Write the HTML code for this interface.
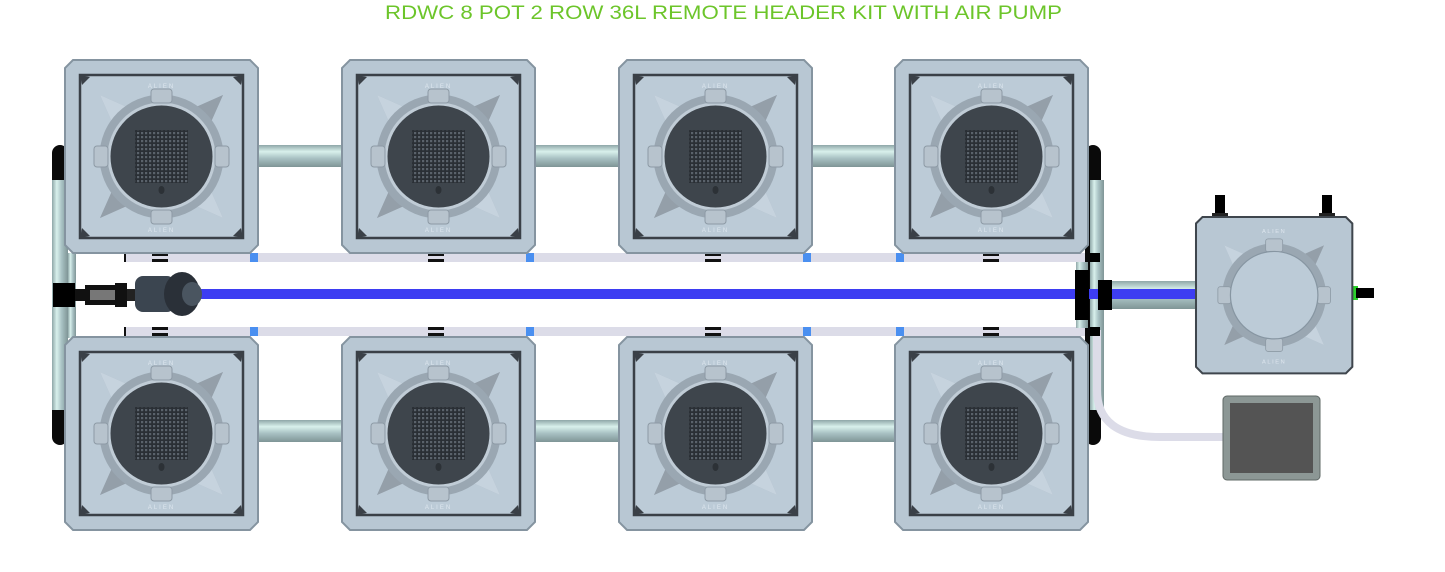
<!DOCTYPE html>
<html><head><meta charset="utf-8"><style>
html,body{margin:0;padding:0;background:#fff;}
svg{display:block;}
</style></head><body>
<svg width="1445" height="572" viewBox="0 0 1445 572" xmlns="http://www.w3.org/2000/svg">
<defs>
<linearGradient id="hp" x1="0" y1="0" x2="0" y2="1">
<stop offset="0" stop-color="#8fa7a8"/><stop offset="0.3" stop-color="#d8f0ec"/><stop offset="0.6" stop-color="#a9c2c4"/><stop offset="1" stop-color="#7f9596"/></linearGradient>
<linearGradient id="vp" x1="0" y1="0" x2="1" y2="0">
<stop offset="0" stop-color="#8fa7a8"/><stop offset="0.3" stop-color="#d8f0ec"/><stop offset="0.6" stop-color="#a9c2c4"/><stop offset="1" stop-color="#7f9596"/></linearGradient>
<pattern id="grid" width="4" height="4" patternUnits="userSpaceOnUse">
<rect width="4" height="4" fill="#2a2f35"/><rect width="2.2" height="2.2" fill="#5a626b"/></pattern>
<g id="pot">
<path d="M8 0 H185 L193 8 V185 L185 193 H8 L0 185 V8 Z" fill="#b8c7d3" stroke="#8594a0" stroke-width="2"/>
<rect x="15" y="15" width="163" height="163" fill="#bccbd7" stroke="#3a4047" stroke-width="2.5"/>
<path d="M35 35 L80 55 L113 55 L158 35 L138 80 L138 113 L158 158 L113 138 L80 138 L35 158 L55 113 L55 80 Z" fill="#a7b5c1"/>
<path d="M35 35 L80 55 L55 80 Z M158 158 L113 138 L138 113 Z" fill="#c6d3de"/>
<path d="M158 35 L138 80 L113 55 Z M35 158 L55 113 L80 138 Z" fill="#949fa9"/>
<circle cx="96.5" cy="96.5" r="62" fill="#9aa7b2"/>
<circle cx="96.5" cy="96.5" r="54" fill="#c0ccd6"/>
<rect x="86" y="29" width="21" height="14" rx="3" fill="#b7c3cd" stroke="#8d9aa5"/>
<rect x="86" y="150" width="21" height="14" rx="3" fill="#b7c3cd" stroke="#8d9aa5"/>
<rect x="29" y="86" width="14" height="21" rx="3" fill="#b7c3cd" stroke="#8d9aa5"/>
<rect x="150" y="86" width="14" height="21" rx="3" fill="#b7c3cd" stroke="#8d9aa5"/>
<circle cx="96.5" cy="96.5" r="51" fill="#3e454c"/>
<rect x="70" y="70" width="53" height="53" fill="url(#grid)"/>
<ellipse cx="96.5" cy="130" rx="3" ry="4" fill="#2c3136"/>
<path d="M15 15 l10 2 -8 8 Z M178 15 l-10 2 8 8 Z M15 178 l10 -2 -8 -8 Z M178 178 l-10 -2 8 -8 Z" fill="#3a4047"/>
<text x="96.5" y="28" font-family="Liberation Sans, sans-serif" font-size="6" fill="#dde6ee" text-anchor="middle" letter-spacing="2">ALIEN</text>
<text x="96.5" y="172" font-family="Liberation Sans, sans-serif" font-size="6" fill="#dde6ee" text-anchor="middle" letter-spacing="2">ALIEN</text>
</g>
</defs>

<text x="385" y="19" textLength="677" lengthAdjust="spacingAndGlyphs" font-family="Liberation Sans, sans-serif" font-size="19" fill="#6cc52a">RDWC 8 POT 2 ROW 36L REMOTE HEADER KIT WITH AIR PUMP</text>

<!-- left end caps -->
<rect x="52" y="145" width="16" height="300" rx="8" fill="#0a0a0a"/>
<rect x="1085" y="145" width="16" height="300" rx="8" fill="#0a0a0a"/>
<!-- vertical left pipe -->
<rect x="52" y="180" width="16" height="230" fill="url(#vp)"/>
<rect x="68" y="253" width="8" height="85" fill="url(#vp)"/>
<rect x="1090" y="180" width="14" height="230" fill="url(#vp)"/>

<!-- horizontal pipes -->
<g fill="url(#hp)">
<rect x="255" y="145" width="90" height="22"/><rect x="532" y="145" width="90" height="22"/><rect x="809" y="145" width="90" height="22"/>
<rect x="255" y="420" width="90" height="22"/><rect x="532" y="420" width="90" height="22"/><rect x="809" y="420" width="90" height="22"/>
<rect x="1105" y="281" width="95" height="28"/>
</g>

<!-- tubes -->
<rect x="125" y="253" width="960" height="9" fill="#dcdce8"/>
<rect x="125" y="327" width="960" height="9" fill="#dcdce8"/>
<path d="M1097 330 V390 Q1097 437 1160 437 H1225" fill="none" stroke="#dcdce8" stroke-width="8"/>
<g fill="#4a8ff0">
<rect x="250" y="253" width="8" height="9"/><rect x="526" y="253" width="8" height="9"/><rect x="803" y="253" width="8" height="9"/><rect x="896" y="253" width="8" height="9"/>
<rect x="250" y="327" width="8" height="9"/><rect x="526" y="327" width="8" height="9"/><rect x="803" y="327" width="8" height="9"/><rect x="896" y="327" width="8" height="9"/>
</g>
<g fill="#111">
<rect x="152" y="253" width="16" height="3"/><rect x="152" y="259" width="16" height="3"/>
<rect x="428" y="253" width="16" height="3"/><rect x="428" y="259" width="16" height="3"/>
<rect x="705" y="253" width="16" height="3"/><rect x="705" y="259" width="16" height="3"/>
<rect x="983" y="253" width="16" height="3"/><rect x="983" y="259" width="16" height="3"/>
<rect x="152" y="327" width="16" height="3"/><rect x="152" y="333" width="16" height="3"/>
<rect x="428" y="327" width="16" height="3"/><rect x="428" y="333" width="16" height="3"/>
<rect x="705" y="327" width="16" height="3"/><rect x="705" y="333" width="16" height="3"/>
<rect x="983" y="327" width="16" height="3"/><rect x="983" y="333" width="16" height="3"/>
<rect x="124" y="253" width="2" height="9"/><rect x="124" y="327" width="2" height="9"/>
</g>

<!-- blue line -->
<rect x="195" y="289" width="1002" height="10" fill="#3d3df2"/>

<!-- pump left -->
<rect x="53" y="283" width="22" height="24" fill="#000"/>
<rect x="75" y="289" width="12" height="12" fill="#111"/>
<rect x="85" y="285" width="42" height="20" fill="#111"/>
<rect x="90" y="290" width="35" height="10" fill="#777"/>
<rect x="115" y="283" width="12" height="24" fill="#111"/>
<rect x="127" y="289" width="8" height="12" fill="#222"/>
<rect x="135" y="276" width="40" height="36" rx="8" fill="#3b4550"/>
<ellipse cx="182" cy="294" rx="18" ry="22" fill="#2a3038"/>
<ellipse cx="192" cy="294" rx="10" ry="12" fill="#4a5560"/>

<!-- right connectors -->
<rect x="1075" y="270" width="14" height="50" fill="#000"/>
<rect x="1098" y="280" width="14" height="30" fill="#000"/>
<rect x="1090" y="253" width="10" height="9" fill="#000"/>
<rect x="1090" y="327" width="10" height="9" fill="#000"/>
<rect x="1076" y="262" width="12" height="8" fill="url(#vp)"/>
<rect x="1076" y="320" width="12" height="8" fill="url(#vp)"/>

<!-- pots -->
<use href="#pot" x="65" y="60"/><use href="#pot" x="342" y="60"/><use href="#pot" x="619" y="60"/><use href="#pot" x="895" y="60"/>
<use href="#pot" x="65" y="337"/><use href="#pot" x="342" y="337"/><use href="#pot" x="619" y="337"/><use href="#pot" x="895" y="337"/>

<!-- reservoir -->
<rect x="1215" y="195" width="10" height="25" fill="#000"/><rect x="1322" y="195" width="10" height="25" fill="#000"/>
<rect x="1212" y="213" width="16" height="7" fill="#222"/><rect x="1319" y="213" width="16" height="7" fill="#222"/>
<rect x="1352" y="286" width="6" height="14" fill="#2bd12b"/>
<rect x="1356" y="288" width="18" height="10" fill="#000"/>
<g transform="translate(1196,217) scale(0.81)">
<path d="M8 0 H185 L193 8 V185 L185 193 H8 L0 185 V8 Z" fill="#b8c7d3" stroke="#3f464d" stroke-width="2.5"/>
<path d="M35 35 L80 55 L113 55 L158 35 L138 80 L138 113 L158 158 L113 138 L80 138 L35 158 L55 113 L55 80 Z" fill="#a7b5c1"/>
<path d="M35 35 L80 55 L55 80 Z M158 158 L113 138 L138 113 Z" fill="#c6d3de"/>
<path d="M158 35 L138 80 L113 55 Z M35 158 L55 113 L80 138 Z" fill="#949fa9"/>
<circle cx="96.5" cy="96.5" r="64" fill="#9aa7b2"/>
<rect x="86" y="27" width="21" height="16" rx="3" fill="#b7c3cd" stroke="#8d9aa5"/>
<rect x="86" y="150" width="21" height="16" rx="3" fill="#b7c3cd" stroke="#8d9aa5"/>
<rect x="27" y="86" width="16" height="21" rx="3" fill="#b7c3cd" stroke="#8d9aa5"/>
<rect x="150" y="86" width="16" height="21" rx="3" fill="#b7c3cd" stroke="#8d9aa5"/>
<circle cx="96.5" cy="96.5" r="54" fill="#bccbd7" stroke="#8796a2" stroke-width="1.5"/>
<text x="96.5" y="20" font-family="Liberation Sans, sans-serif" font-size="7" fill="#dde6ee" text-anchor="middle" letter-spacing="2">ALIEN</text>
<text x="96.5" y="181" font-family="Liberation Sans, sans-serif" font-size="7" fill="#dde6ee" text-anchor="middle" letter-spacing="2">ALIEN</text>
</g>

<!-- air pump -->
<rect x="1223" y="396" width="97" height="84" rx="4" fill="#8c9795" stroke="#5f6866"/>
<rect x="1230" y="403" width="83" height="70" fill="#545454"/>
</svg>
</body></html>
